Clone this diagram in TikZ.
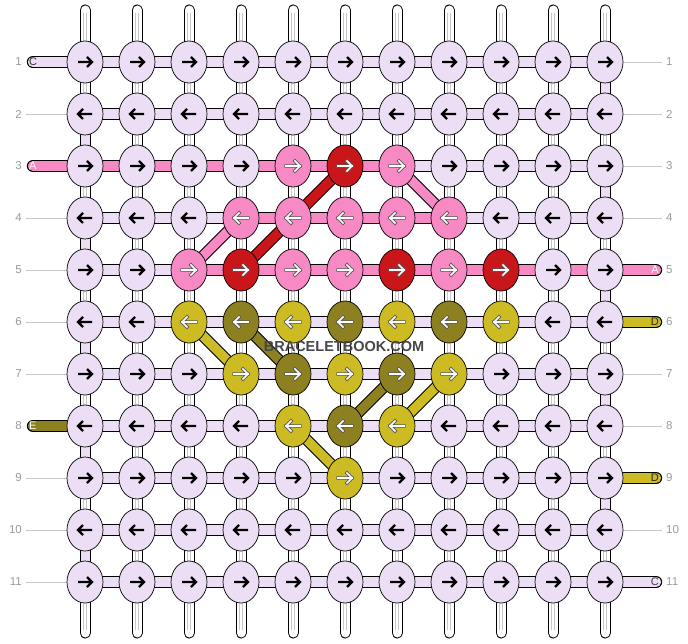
\documentclass[tikz,border=0pt]{standalone}
\usepackage{fontspec}
\setmainfont{Liberation Sans}
\usetikzlibrary{positioning,shapes.geometric}

\definecolor{cL}{HTML}{ECDFF5}
\definecolor{cP}{HTML}{F78AC4}
\definecolor{cR}{HTML}{C8161A}
\definecolor{cY}{HTML}{CDBB23}
\definecolor{cO}{HTML}{8D8020}
\definecolor{labelgray}{HTML}{9A9A9A}

\pgfdeclarelayer{strands}
\pgfsetlayers{strands,main}

\tikzset{
  knot/.style={ellipse, draw=black, line width=0.7pt, minimum width=36pt, minimum height=42pt, inner sep=0pt},
  knotarrow/.style={line cap=butt, line join=miter},
  rowlabel/.style={text=labelgray, font=\fontsize{11.5}{11.5}\selectfont, inner sep=0pt},
  threadtag/.style={font=\fontsize{11}{11}\selectfont, inner sep=0pt},
  guide/.style={draw=black!22, line width=0.8pt},
  watermark/.style={text=black!72, font=\fontsize{14.5}{14.5}\selectfont\bfseries, inner sep=0pt},
}

% coloured string with a thin black edge
\newcommand{\strand}[6]{%
  \draw[line width=#4, black, line cap=#6] (#2) -- (#3);
  \draw[line width=#5, #1, line cap=#6] (#2) -- (#3);}

\begin{document}
\begin{tikzpicture}[x=1pt, y=-1pt]
\useasboundingbox (0,0) rectangle (688,644);

% knots
\foreach \r/\knots in {
  1/{L,L,L,L,L,L,L,L,L,L,L},
  2/{L,L,L,L,L,L,L,L,L,L,L},
  3/{L,L,L,L,P,R,P,L,L,L,L},
  4/{L,L,L,P,P,P,P,P,L,L,L},
  5/{L,L,P,R,P,P,R,P,R,L,L},
  6/{L,L,Y,O,Y,O,Y,O,Y,L,L},
  7/{L,L,L,Y,O,Y,O,Y,L,L,L},
  8/{L,L,L,L,Y,O,Y,L,L,L,L},
  9/{L,L,L,L,L,Y,L,L,L,L,L},
  10/{L,L,L,L,L,L,L,L,L,L,L},
  11/{L,L,L,L,L,L,L,L,L,L,L}}{
  \foreach \k [count=\c] in \knots {
    \node[knot, fill=c\k] (k-\r-\c) at ({33+52*\c},{10+52*\r}) {};
    \pgfmathsetmacro\tl{isodd(\r) ? -7 : 7}
    \pgfmathsetmacro\tr{isodd(\r) ? 7 : -7}
    \pgfmathsetmacro\hh{isodd(\r) ? 2 : -2}
    \if L\k
      \draw[knotarrow, line width=2.2pt, black]
        ([xshift=\tl pt]k-\r-\c.center) -- ([xshift=\tr pt]k-\r-\c.center)
        ([shift={(\hh,-5)}]k-\r-\c.center) -- ([xshift=\tr pt]k-\r-\c.center) -- ([shift={(\hh,5)}]k-\r-\c.center);
    \else
      \draw[knotarrow, line width=3.3pt, black!65, line cap=rect]
        ([xshift=\tl pt]k-\r-\c.center) -- ([xshift=\tr pt]k-\r-\c.center)
        ([shift={(\hh,-5)}]k-\r-\c.center) -- ([xshift=\tr pt]k-\r-\c.center) -- ([shift={(\hh,5)}]k-\r-\c.center);
      \draw[knotarrow, line width=1.7pt, white, line cap=rect]
        ([xshift=\tl pt]k-\r-\c.center) -- ([xshift=\tr pt]k-\r-\c.center)
        ([shift={(\hh,-5)}]k-\r-\c.center) -- ([xshift=\tr pt]k-\r-\c.center) -- ([shift={(\hh,5)}]k-\r-\c.center);
    \fi
  }
}

% row numbers
\foreach \r in {1,...,11} {
  \node[rowlabel, anchor=east] (n-l-\r) at (22,{10+52*\r}) {\r};
  \node[rowlabel, anchor=west] (n-r-\r) at (666,{10+52*\r}) {\r};
}

\node[watermark] (wm) at (344,347) {BRACELETBOOK.COM};

\begin{pgfonlayer}{strands}
  % vertical strings
  \foreach \c in {1,...,11} {
    \coordinate (top-\c) at ({33+52*\c},10);
    \coordinate (bot-\c) at ({33+52*\c},633);
    \strand{white}{top-\c}{bot-\c}{11pt}{9pt}{round}
    \draw[line width=0.5pt, black!22] ([shift={(-1.3,3)}]top-\c) -- ([shift={(-1.3,-3)}]bot-\c);
    \draw[line width=0.5pt, black!22] ([shift={(1.3,3)}]top-\c) -- ([shift={(1.3,-3)}]bot-\c);
  }
  % turns at the edges
  \foreach \r in {1,...,10} {
    \pgfmathtruncatemacro\ec{isodd(\r) ? 11 : 1}
    \pgfmathtruncatemacro\n{\r+1}
    \draw[line width=9pt, cL] (k-\r-\ec.center) -- (k-\n-\ec.center);
  }
  % rows
  \foreach \r/\segs in {
    1/{L,L,L,L,L,L,L,L,L,L},
    2/{L,L,L,L,L,L,L,L,L,L},
    3/{P,P,P,P,P,P,L,L,L,L},
    4/{L,L,L,P,P,P,P,L,L,L},
    5/{L,L,P,P,P,P,P,P,P,P},
    6/{L,L,L,L,L,L,L,L,L,L},
    7/{L,L,L,L,L,L,L,L,L,L},
    8/{L,L,L,L,L,L,L,L,L,L},
    9/{L,L,L,L,L,L,L,L,L,L},
    10/{L,L,L,L,L,L,L,L,L,L},
    11/{L,L,L,L,L,L,L,L,L,L}}{
    \foreach \s [count=\c] in \segs {
      \pgfmathtruncatemacro\n{\c+1}
      \strand{c\s}{k-\r-\c.center}{k-\r-\n.center}{12.4pt}{10.4pt}{butt}
    }
  }
  % diagonals
  \foreach \a/\b/\col in {k-3-7/k-4-8/cP, k-4-4/k-5-3/cP, k-3-6/k-5-4/cR,
      k-6-3/k-7-4/cY, k-6-4/k-7-5/cO, k-8-6/k-7-7/cO, k-7-8/k-8-7/cY, k-8-5/k-9-6/cY} {
    \strand{\col}{\a.center}{\b.center}{11.4pt}{9.4pt}{butt}
  }
  % loose ends
  \foreach \r/\col/\t/\tc in {1/cL/C/black!80, 3/cP/A/white, 8/cO/E/white} {
    \coordinate (e-l-\r) at (33,{10+52*\r});
    \strand{\col}{e-l-\r}{k-\r-1.center}{12.4pt}{10.4pt}{round}
    \node[threadtag, text=\tc, anchor=west] (t-l-\r) at (29,{10+52*\r}) {\t};
  }
  \foreach \r/\col/\t/\tc in {5/cP/A/white, 6/cY/D/black!85, 9/cY/D/black!85, 11/cL/C/black!75} {
    \coordinate (e-r-\r) at (656,{10+52*\r});
    \strand{\col}{k-\r-11.center}{e-r-\r}{12.4pt}{10.4pt}{round}
    \node[threadtag, text=\tc, anchor=east] (t-r-\r) at (659,{10+52*\r}) {\t};
  }
  % guide lines to the row numbers
  \foreach \r in {2,4,5,6,7,9,10,11}
    \draw[guide] ([xshift=4pt]n-l-\r.east) -- (k-\r-1.center);
  \foreach \r in {1,2,3,4,7,8,10}
    \draw[guide] (k-\r-11.center) -- ([xshift=-4pt]n-r-\r.west);
\end{pgfonlayer}
\end{tikzpicture}
\end{document}
